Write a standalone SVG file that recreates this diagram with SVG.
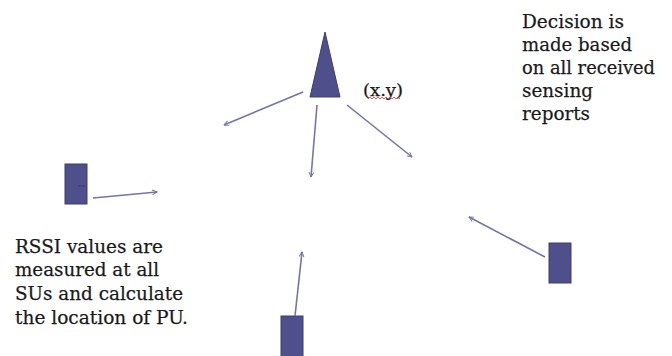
<svg xmlns="http://www.w3.org/2000/svg" width="672" height="356" viewBox="0 0 672 356">
<defs>
<style>
.node{fill:#4f4f8c;stroke:#3e3e72;stroke-width:1}
.conn{stroke:#7474aa;stroke-width:1.6;fill:none;marker-end:url(#ah)}
.txt{fill:#1a1a1a;stroke:#1a1a1a;stroke-width:0.25}
</style>
<marker id="ah" viewBox="0 0 10 10" refX="9" refY="5" markerWidth="6" markerHeight="6" orient="auto" markerUnits="userSpaceOnUse">
<path d="M1,1 L9,5 L1,9" fill="none" stroke="#7474aa" stroke-width="1.6"/>
</marker>
</defs>
<rect width="672" height="356" fill="#ffffff"/>
<g id="pu">
<polygon class="node" points="325,32 340,97 310,97"/>
</g>
<g id="su-left">
<rect class="node" x="65" y="164" width="22" height="40"/>
<line x1="78" y1="186" x2="85" y2="186" stroke="#3e3e72" stroke-width="1"/>
</g>
<g id="su-right">
<rect class="node" x="549" y="243" width="22" height="40"/>
</g>
<g id="su-bottom">
<rect class="node" x="281" y="316" width="22" height="41"/>
</g>
<g id="connectors">
<line class="conn" x1="303" y1="92" x2="224" y2="125"/>
<line class="conn" x1="317" y1="105" x2="311" y2="177"/>
<line class="conn" x1="347" y1="105" x2="412" y2="157"/>
<line class="conn" x1="93" y1="198" x2="157" y2="192"/>
<line class="conn" x1="545" y1="257" x2="469" y2="217"/>
<line class="conn" x1="295" y1="316" x2="302" y2="252"/>
</g>
<g font-family="'DejaVu Serif', 'Liberation Serif', serif" font-size="19">
<g id="label-xy">
<text class="txt" x="363" y="96" font-size="16" textLength="40" lengthAdjust="spacingAndGlyphs">(x.y)</text>
<path d="M368,99 l2,-2 l2,2 l2,-2 l2,2 l2,-2 l2,2 l2,-2 l2,2 l2,-2 l2,2 l2,-2 l2,2 l2,-2 l2,2 l2,-2 l2,2" fill="none" stroke="#e03030" stroke-width="0.8"/>
</g>
<g id="label-decision">
<text class="txt" x="522" y="28" textLength="102" lengthAdjust="spacingAndGlyphs">Decision is</text>
<text class="txt" x="522" y="51" textLength="110" lengthAdjust="spacingAndGlyphs">made based</text>
<text class="txt" x="522" y="74" textLength="133" lengthAdjust="spacingAndGlyphs">on all received</text>
<text class="txt" x="522" y="97" textLength="71" lengthAdjust="spacingAndGlyphs">sensing</text>
<text class="txt" x="522" y="120" textLength="68" lengthAdjust="spacingAndGlyphs">reports</text>
</g>
<g id="label-rssi">
<text class="txt" x="15" y="253" textLength="148" lengthAdjust="spacingAndGlyphs">RSSI values are</text>
<text class="txt" x="15" y="276" textLength="144" lengthAdjust="spacingAndGlyphs">measured at all</text>
<text class="txt" x="15" y="300" textLength="168" lengthAdjust="spacingAndGlyphs">SUs and calculate</text>
<text class="txt" x="15" y="324" textLength="173" lengthAdjust="spacingAndGlyphs">the location of PU.</text>
</g>
</g>
</svg>
